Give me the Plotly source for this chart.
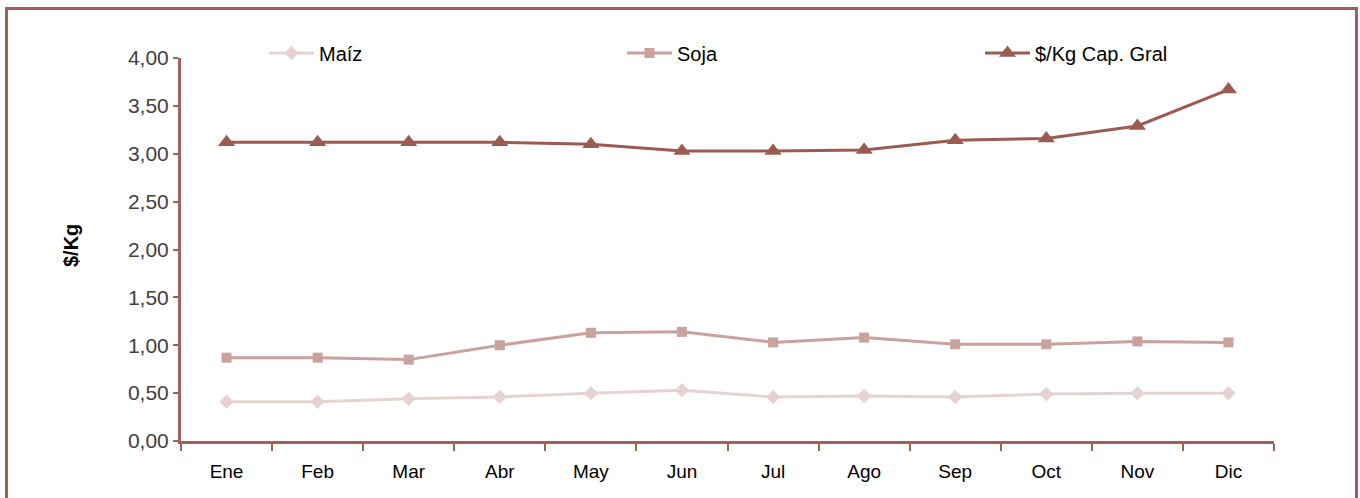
import plotly.graph_objects as go

months = ["Ene", "Feb", "Mar", "Abr", "May", "Jun", "Jul", "Ago", "Sep", "Oct", "Nov", "Dic"]
maiz = [0.41, 0.41, 0.44, 0.46, 0.50, 0.53, 0.46, 0.47, 0.46, 0.49, 0.50, 0.50]
soja = [0.87, 0.87, 0.85, 1.00, 1.13, 1.14, 1.03, 1.08, 1.01, 1.01, 1.04, 1.03]
cap_gral = [3.12, 3.12, 3.12, 3.12, 3.10, 3.03, 3.03, 3.04, 3.14, 3.16, 3.29, 3.67]
y_ticks = [0, 0.5, 1.0, 1.5, 2.0, 2.5, 3.0, 3.5, 4.0]
y_ticklabels = ["0,00", "0,50", "1,00", "1,50", "2,00", "2,50", "3,00", "3,50", "4,00"]

c_maiz = "#E6D3D1"
c_soja = "#C9A29D"
c_cap = "#9C5B52"
c_axis = "#A0615A"

L, T, PW, PH = 181, 58, 1093, 383

fig = go.Figure()
fig.add_trace(go.Scatter(x=months, y=maiz, name="Maíz", mode="lines+markers",
                         line=dict(color=c_maiz, width=3),
                         marker=dict(symbol="diamond", size=11, color=c_maiz)))
fig.add_trace(go.Scatter(x=months, y=soja, name="Soja", mode="lines+markers",
                         line=dict(color=c_soja, width=3),
                         marker=dict(symbol="square", size=10, color=c_soja)))
fig.add_trace(go.Scatter(x=months, y=cap_gral, name="$/Kg Cap. Gral", mode="lines+markers",
                         line=dict(color=c_cap, width=3),
                         marker=dict(symbol="triangle-up", size=15, color=c_cap)))

fig.update_layout(
    width=1360, height=498,
    margin=dict(l=L, r=1360 - L - PW, t=T, b=498 - T - PH, autoexpand=False),
    paper_bgcolor="white", plot_bgcolor="white",
    font=dict(family="Liberation Sans, Arial, sans-serif", size=20, color="#000000"),
    showlegend=True,
    legend=dict(orientation="h", x=(264 - L) / PW, y=(441 - 53) / PH, xanchor="left", yanchor="middle",
                entrywidth=298, entrywidthmode="pixels",
                font=dict(size=20, color="#000000"), bgcolor="rgba(0,0,0,0)",
                itemwidth=45, tracegroupgap=0),
    xaxis=dict(type="category", range=[-0.5, 11.5], showgrid=False, zeroline=False,
               showline=True, linecolor=c_axis, linewidth=3,
               ticks="outside", tickson="boundaries", ticklen=7, tickwidth=2, tickcolor=c_axis,
               ticklabelstandoff=11,
               tickfont=dict(size=19, color="#000000")),
    yaxis=dict(range=[0, 4], tickvals=y_ticks, ticktext=y_ticklabels, showgrid=False,
               zeroline=False, showline=True, linecolor=c_axis, linewidth=3,
               ticks="outside", ticklen=5, tickwidth=2, tickcolor=c_axis,
               tickfont=dict(size=21, color="#404040")),
)

fig.add_annotation(text="<b>$/Kg</b>", textangle=-90, xref="paper", yref="paper",
                   x=(71 - L) / PW, y=(441 - 246) / PH, xanchor="center", yanchor="middle",
                   showarrow=False, font=dict(size=20, color="#000000"))

fig.add_shape(type="rect", xref="paper", yref="paper",
              x0=(6.5 - L) / PW, x1=(1356.5 - L) / PW,
              y0=-0.3, y1=(441 - 8.5) / PH,
              line=dict(color=c_axis, width=3), fillcolor="rgba(0,0,0,0)", layer="below")

fig.write_html("out.html", config={"displayModeBar": False},
               post_script="document.body.style.margin='0';")
